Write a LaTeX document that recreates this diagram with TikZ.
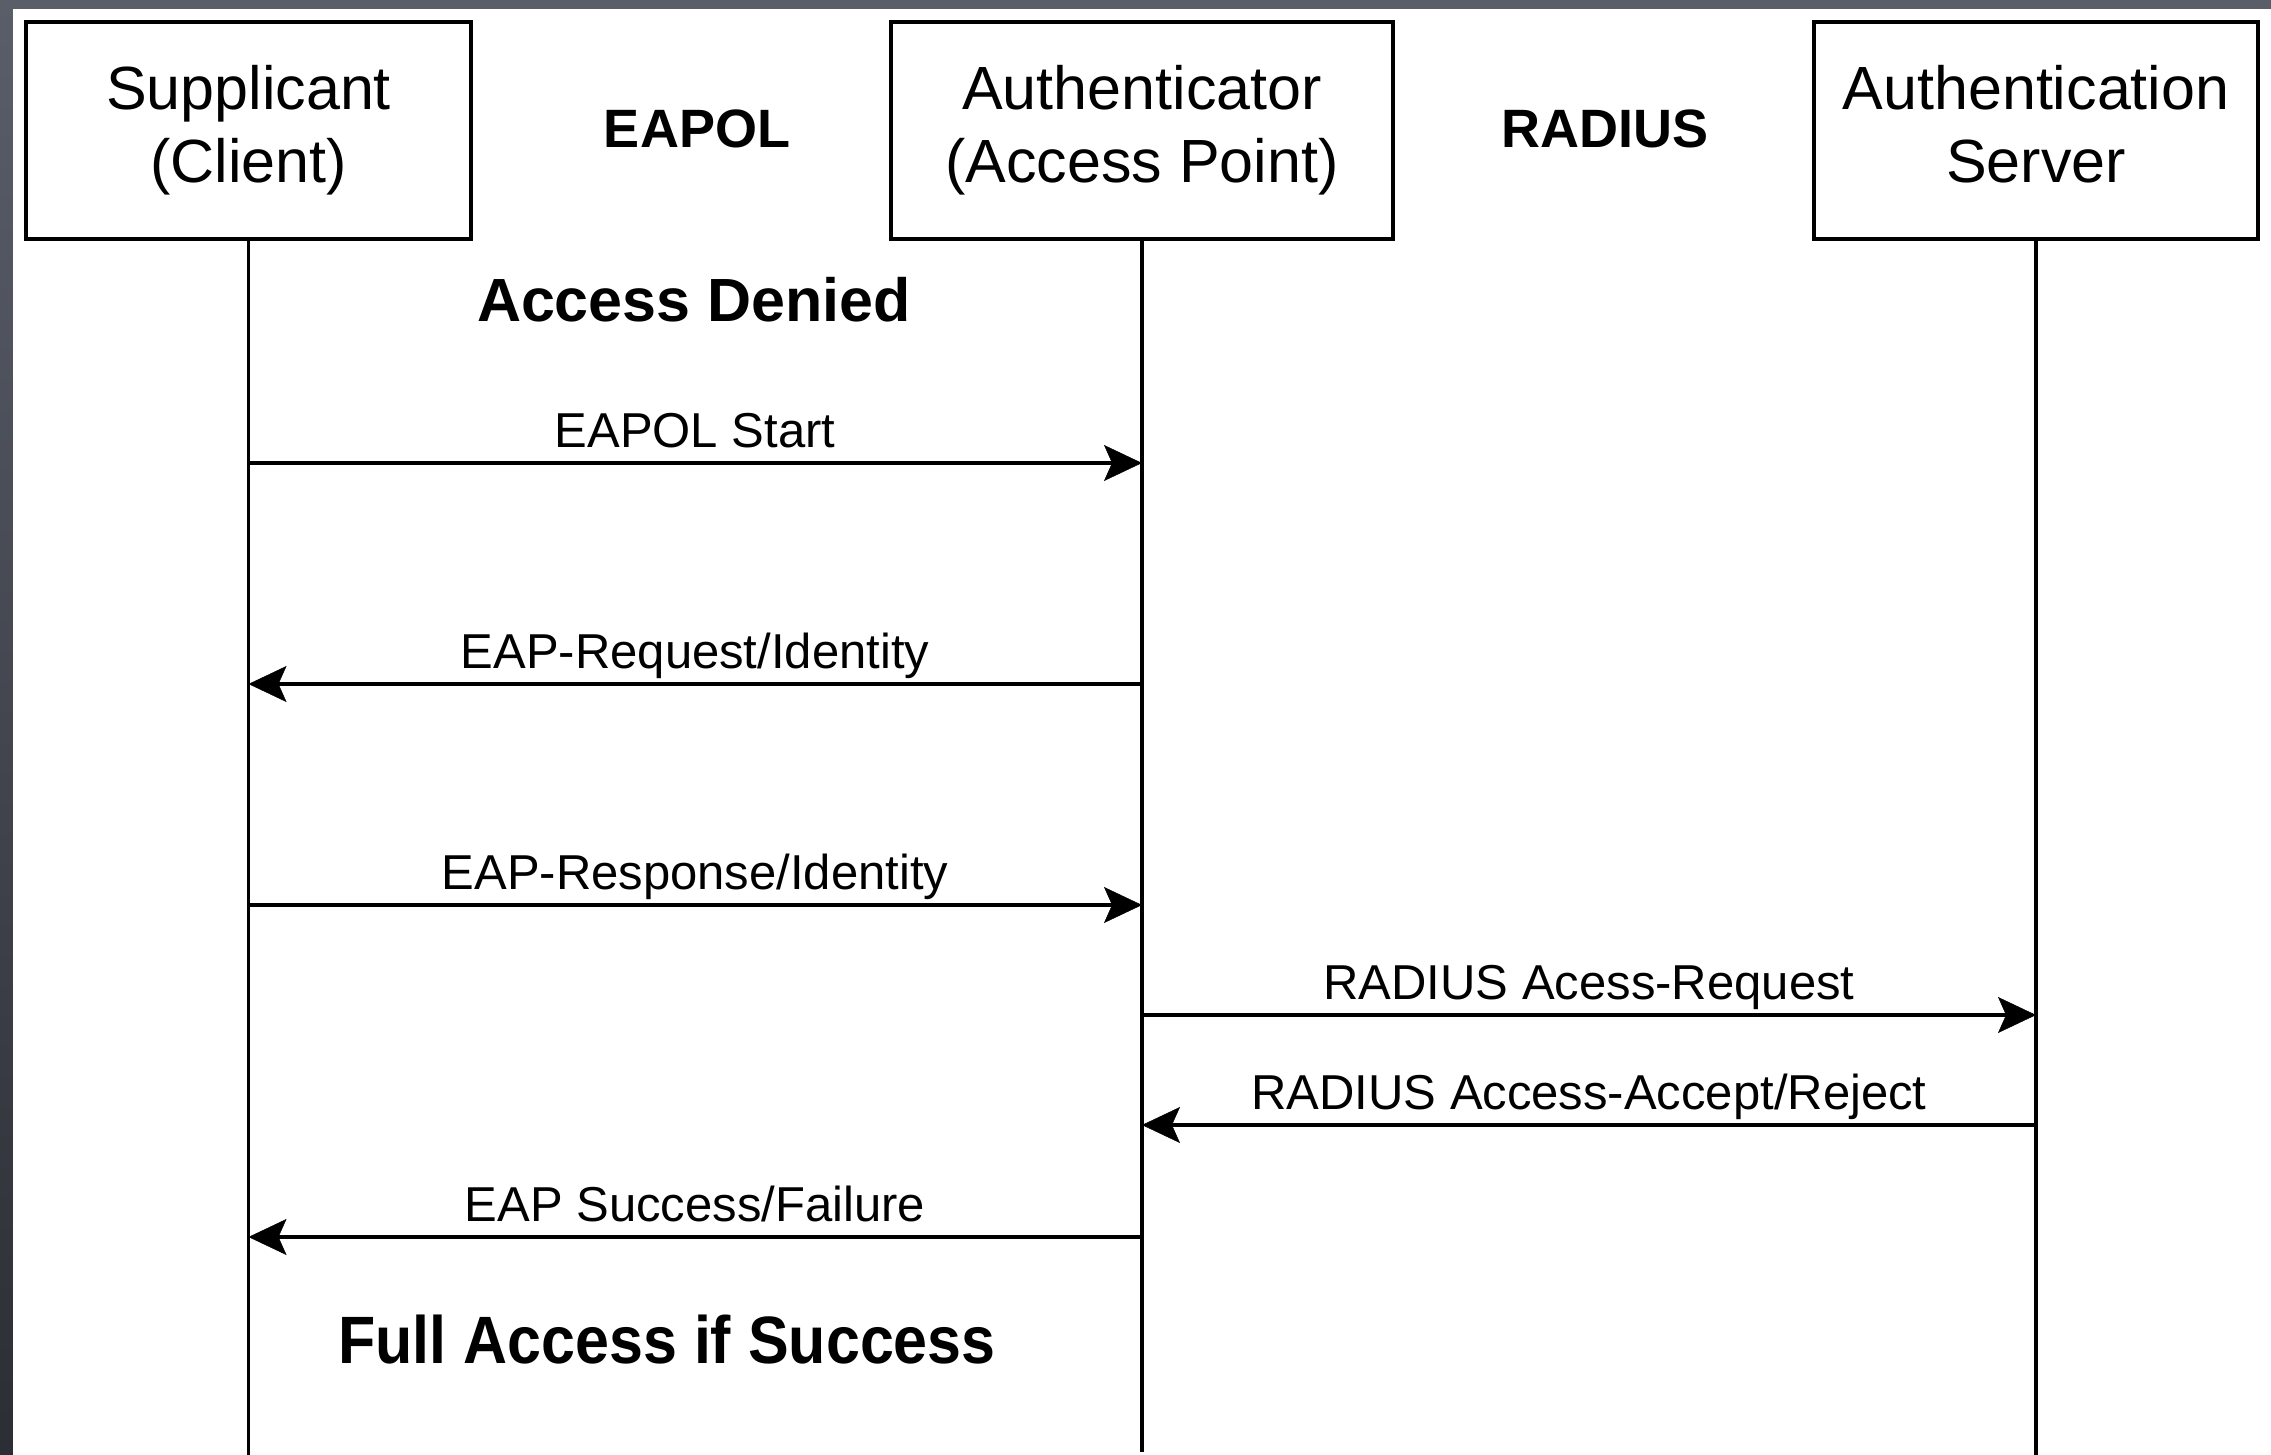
\documentclass[tikz,border=0pt]{standalone}
\usepackage{fontspec}
\setmainfont{Liberation Sans}
\usetikzlibrary{arrows.meta}
\definecolor{frametop}{HTML}{5A5E69}
\definecolor{framebot}{HTML}{2C2E35}
\begin{document}
\begin{tikzpicture}[x=1pt,y=-1pt,
  actor/.style={draw=black,line width=4.5pt,fill=white,inner sep=0pt,align=center,
    minimum height=217pt,font=\fontsize{61}{73}\selectfont},
  life/.style={line width=3.2pt},
  msg/.style={line width=3.2pt,-{Stealth[length=38pt,width=36pt,inset=8pt,line width=0.5pt]}},
  lbl/.style={anchor=base,inner sep=0pt,font=\fontsize{49}{59}\selectfont},
  heading/.style={anchor=base,inner sep=0pt,font=\fontsize{54}{65}\selectfont\bfseries},
  bignote/.style={anchor=base,inner sep=0pt,font=\fontsize{61}{74}\selectfont\bfseries}]
\useasboundingbox (0,0) rectangle (2271,1455);
\shade[top color=frametop,bottom color=framebot] (0,0) rectangle (2271,1455);
\fill[white] (13,9) rectangle (2271,1455);

% actors
\node[actor,minimum width=445pt] (sup) at (248.5,130.5) {Supplicant\\(Client)};
\node[actor,minimum width=502pt] (auth) at (1142,130.5) {Authenticator\\(Access Point)};
\node[actor,minimum width=444pt] (srv) at (2036,130.5) {Authentication\\Server\vphantom{(}};

% lifelines
\coordinate (supEnd) at (248.5,1455);
\coordinate (authEnd) at (1142,1452);
\coordinate (srvEnd) at (2036,1455);
\draw[life] (sup.south) -- (supEnd);
\draw[life] (auth.south) -- (authEnd);
\draw[life] (srv.south) -- (srvEnd);

% headings
\node[heading] (eapol) at (697,148) {EAPOL};
\node[heading] (radius) at (1605,148) {RADIUS};
\node[bignote] (denied) at (694,322) {Access Denied};
\node[bignote] (full) at (667,1363) {\fontsize{67}{80}\selectfont\scalebox{0.91}[1]{Full Access if Success}};

% message end points
\coordinate (s1) at (248.5,463);  \coordinate (a1) at (1142,463);
\coordinate (s2) at (248.5,684);  \coordinate (a2) at (1142,684);
\coordinate (s3) at (248.5,905);  \coordinate (a3) at (1142,905);
\coordinate (a4) at (1142,1015);  \coordinate (r4) at (2036,1015);
\coordinate (a5) at (1142,1125);  \coordinate (r5) at (2036,1125);
\coordinate (s6) at (248.5,1237); \coordinate (a6) at (1142,1237);

% messages
\draw[msg] (s1) -- (a1);
\draw[msg] (a2) -- (s2);
\draw[msg] (s3) -- (a3);
\draw[msg] (a4) -- (r4);
\draw[msg] (r5) -- (a5);
\draw[msg] (a6) -- (s6);

% message labels
\node[lbl] (m1) at (695,447) {EAPOL Start};
\node[lbl] (m2) at (695,668) {EAP-Request/Identity};
\node[lbl] (m3) at (695,889) {EAP-Response/Identity};
\node[lbl] (m4) at (1589,999) {RADIUS Acess-Request};
\node[lbl] (m5) at (1589,1109) {RADIUS Access-Accept/Reject};
\node[lbl] (m6) at (695,1221) {EAP Success/Failure};
\end{tikzpicture}
\end{document}
